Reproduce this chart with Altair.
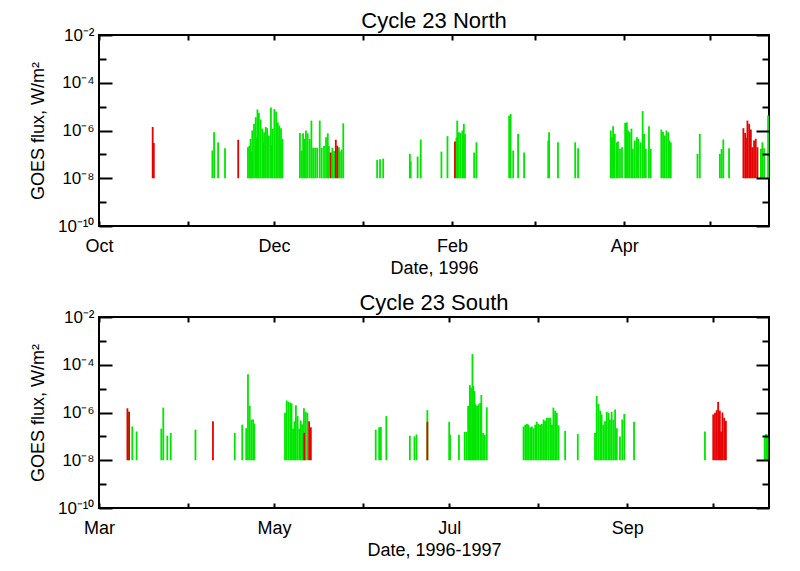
import altair as alt
import pandas as pd

GREEN = "#00e600"
RED = "#e60000"
FONT = "Liberation Sans"

# ---------------- data (days after the panel start date, flux in W/m^2) -------------
NORTH_START = "1995-10-01"
SOUTH_START = "1997-03-01"

north_green_day = [39.5, 40.1, 41.5, 43.9,
    51.9, 52.4, 52.8, 53.0, 53.4, 54.0, 54.6, 55.0, 55.2, 55.7, 56.3, 56.9, 57.2, 57.5,
    58.1, 58.6, 59.2, 59.9, 60.2, 60.5, 61.1, 61.7, 62.0, 62.3, 62.8, 63.1, 63.4, 63.9,
    70.0, 70.6, 71.1, 71.7, 72.1, 72.7, 73.4, 74.0, 74.6, 75.3, 76.0, 76.9, 77.6, 78.4,
    79.1, 79.7, 80.1, 81.3, 81.9, 83.6, 83.9, 84.5, 85.1,
    96.9, 97.9, 99.0, 108.3, 108.6, 111.0, 112.1, 119.3, 121.4,
    124.5, 124.8, 125.4, 126.0, 126.6, 127.1, 127.5, 130.7, 131.5,
    142.9, 143.4, 144.3, 146.0, 148.1, 156.5, 156.8, 159.9, 165.9, 166.9,
    178.3, 178.7, 179.1, 179.7, 180.4, 180.8, 181.5, 182.2, 183.3, 183.9, 184.3, 184.9,
    185.5, 186.0, 186.7, 187.4, 187.9, 188.7, 189.4, 189.9, 190.5, 191.6, 192.2,
    195.9, 196.5, 197.1, 197.7, 198.3, 198.7, 199.2,
    208.5, 209.3, 216.3, 216.9, 217.5, 219.5, 230.6, 231.1, 231.7, 233.1]
north_green_flux = [1.45e-7, 8.5e-7, 3.2e-7, 1.8e-7,
    2.0e-7, 2.3e-7, 4.5e-7, 1.3e-7, 1.0e-6, 1.9e-6, 3.6e-6, 5.0e-7, 7.6e-6, 5.5e-6, 2.9e-6, 1.2e-6, 3.2e-7, 8.5e-7,
    1.4e-6, 1.25e-6, 6.2e-7, 9.3e-6, 2.5e-7, 1.2e-6, 7.9e-6, 6.2e-6, 3.2e-7, 2.2e-6, 1.6e-6, 4.0e-7, 1.25e-6, 4.5e-7,
    7.8e-7, 1.45e-7, 7.6e-7, 4.5e-7, 1.0e-6, 7.6e-7, 4.5e-7, 2.6e-6, 1.9e-7, 1.9e-7, 1.9e-7, 2.6e-6, 1.9e-7, 2.3e-7,
    5.2e-7, 7.6e-7, 2.3e-7, 1.9e-7, 1.4e-7, 2.0e-7, 1.3e-7, 1.6e-7, 2.0e-6,
    5.9e-8, 6.3e-8, 6.6e-8, 1.05e-7, 5.0e-8, 8.1e-8, 4.2e-7, 1.3e-7, 5.8e-7,
    5.0e-7, 2.6e-6, 8.5e-7, 7.9e-7, 1.0e-6, 1.9e-6, 7.1e-7, 1.2e-7, 3.2e-7,
    4.2e-6, 4.9e-6, 1.45e-7, 7.2e-7, 1.2e-7, 3.8e-7, 8.5e-7, 3.2e-7, 3.2e-7, 1.8e-7,
    1.0e-6, 5.2e-7, 1.5e-6, 7.2e-7, 3.2e-7, 3.5e-7, 1.7e-7, 2.0e-7, 2.1e-6, 2.2e-6, 1.0e-6, 8.5e-7,
    1.2e-6, 1.7e-7, 3.8e-7, 5.2e-7, 4.5e-7, 3.2e-7, 6.5e-6, 7.2e-7, 1.7e-7, 1.5e-6, 1.7e-7,
    1.1e-6, 8.9e-7, 6.2e-7, 1.0e-6, 8.5e-7, 3.8e-7, 3.2e-7,
    1.05e-7, 7.2e-7, 1.05e-7, 1.7e-7, 4.2e-7, 1.8e-7, 1.7e-7, 3.2e-7, 1.8e-7, 4.2e-6]
north_red_day = [18.7, 19.1, 48.5, 80.7, 82.5, 83.0, 124.0,
    224.5, 225.1, 225.4, 225.9, 226.5, 227.1, 227.6, 228.2, 228.8, 229.4]
north_red_flux = [1.4e-6, 3.0e-7, 4.1e-7, 1.2e-7, 4.1e-7, 2.3e-7, 3.5e-7,
    1.25e-6, 7.9e-7, 5.0e-7, 2.6e-6, 1.9e-6, 1.1e-6, 2.0e-7, 3.8e-7, 4.5e-7, 2.0e-7]

south_green_day = [10.3, 11.6, 13.1, 21.7, 22.4, 23.8, 25.0, 33.6, 47.3, 49.9, 51.3, 51.9,
    52.5, 53.1, 53.7, 54.1,
    64.8, 65.4, 66.0, 66.6, 67.1, 67.6, 68.1, 68.6, 69.2, 69.8, 70.3, 70.8, 71.4, 72.0, 72.6,
    96.4, 97.6, 98.2, 100.1, 108.3, 109.9, 110.6, 114.4, 122.0, 122.3, 125.4,
    127.4, 128.0, 128.6, 129.2, 129.6, 130.1, 130.4, 130.8, 131.2, 131.7, 132.2, 132.8,
    133.2, 133.8, 134.4, 135.1,
    147.9, 148.5, 149.1, 149.6, 150.2, 150.8, 151.4, 152.0, 152.5, 153.1, 153.7, 154.3,
    154.9, 155.4, 156.0, 156.6, 157.2, 157.8, 158.3, 158.9, 159.5, 160.1,
    162.4, 166.8,
    172.8, 173.4, 174.0, 174.6, 175.1, 175.7, 176.3, 176.9, 177.5, 178.0, 178.6, 179.2,
    179.8, 180.4, 181.5, 182.3, 183.0,
    186.4, 211.1, 231.9, 232.4, 232.9]
south_green_flux = [1.1e-6, 2.6e-7, 1.6e-7, 2.1e-7, 1.6e-6, 1.07e-7, 1.4e-7, 1.9e-7, 1.4e-7, 3.1e-7, 2.2e-7, 4.0e-5,
    1.9e-6, 5.1e-7, 5.1e-7, 3.4e-7,
    9.8e-7, 3.2e-6, 2.8e-6, 2.6e-6, 2.4e-6, 2.1e-7, 4.3e-7, 2.0e-6, 7.1e-7, 2.1e-7, 4.6e-7, 3.2e-7, 1.5e-6, 1.07e-6, 9.8e-7,
    1.9e-7, 2.4e-7, 2.5e-7, 7.1e-7, 1.07e-7, 1.0e-7, 1.2e-7, 1.26e-6, 4.1e-7, 1.17e-7, 1.17e-7,
    1.55e-7, 1.55e-7, 1.9e-6, 1.4e-5, 1.1e-5, 2.8e-4, 1.3e-5, 7.9e-6, 2.2e-6, 1.9e-6, 2.2e-6, 2.5e-6,
    5.4e-6, 1.4e-7, 1.17e-7, 1.66e-6,
    2.6e-7, 3.1e-7, 3.3e-7, 3.1e-7, 2.4e-7, 2.6e-7, 2.2e-7, 3.1e-7, 4.1e-7, 3.3e-7, 3.1e-7, 3.3e-7,
    5.1e-7, 4.4e-7, 6.0e-7, 6.0e-7, 6.0e-7, 3.1e-7, 1.6e-6, 1.2e-6, 9.8e-7, 2.9e-7,
    1.7e-7, 1.26e-7,
    1.4e-7, 4.9e-6, 2.3e-6, 1.2e-6, 8.3e-7, 3.1e-7, 4.3e-7, 1.07e-6, 9.8e-7, 5.1e-7, 1.07e-6, 5.1e-7,
    1.35e-6, 2.2e-7, 1.0e-7, 5.1e-7, 8.7e-7,
    4.1e-7, 1.6e-7, 9.0e-8, 1.26e-7, 1.0e-7]
south_red_day = [9.9, 10.5, 39.7, 71.5, 73.2, 73.8, 114.4,
    214.0, 214.6, 215.2, 215.7, 216.3, 216.7, 217.2, 217.8, 218.4]
south_red_flux = [1.5e-6, 1.07e-6, 4.3e-7, 1.4e-7, 4.3e-7, 2.4e-7, 4.1e-7,
    8.3e-7, 9.8e-7, 1.25e-6, 2.8e-6, 1.2e-6, 1.6e-7, 1.0e-6, 6.0e-7, 4.5e-7]

Y_MAJOR = [1e-10, 1e-8, 1e-6, 1e-4, 1e-2]
Y_MINOR = [1e-9, 1e-7, 1e-5, 1e-3]
BASELINE = 1e-8

north_label_months = [(1995, 10), (1995, 12), (1996, 2), (1996, 4)]
north_tick_months = [(1995, 10), (1995, 11), (1995, 12), (1996, 1), (1996, 2), (1996, 3), (1996, 4), (1996, 5)]
south_label_months = [(1997, 3), (1997, 5), (1997, 7), (1997, 9)]
south_tick_months = [(1997, m) for m in range(3, 11)]


def build_df(start, gd, gf, rd, rf):
    t0 = pd.Timestamp(start, tz="UTC")
    rows = [("green", d, f) for d, f in zip(gd, gf)] + [("red", d, f) for d, f in zip(rd, rf)]
    df = pd.DataFrame(rows, columns=["kind", "day", "flux"])
    df["date"] = (t0 + pd.to_timedelta(df["day"], unit="D")).dt.strftime("%Y-%m-%dT%H:%M:%SZ")
    return df[["kind", "date", "flux"]]


def dt(ym):
    return alt.DateTime(year=ym[0], month=ym[1], date=1, utc=True)


EXP = "round(log(datum.value)/LN10)"
YLABEL = ("'10⁻' + (" + EXP + " == -2 ? '²' : " + EXP + " == -4 ? '⁴' : " + EXP +
          " == -6 ? '⁶' : " + EXP + " == -8 ? '⁸' : '¹⁰')")


def panel(df, title, xtitle, x0, x1, label_months, tick_months):
    xs = alt.Scale(type="utc", domain=[x0, x1])
    ys = alt.Scale(type="log", domain=[1e-10, 1e-2])
    base = alt.Chart(df)
    bars = base.mark_rule(strokeWidth=1.8).encode(
        x=alt.X("date:T", scale=xs,
                axis=alt.Axis(orient="bottom", values=[dt(m) for m in label_months],
                              labelExpr="utcFormat(datum.value, '%b')", labelFlush=False,
                              ticks=False, tickSize=0, domain=False, labelPadding=11,
                              labelFontSize=18, title=xtitle, titleFontSize=18, titlePadding=4)),
        y=alt.Y("flux:Q", scale=ys,
                axis=alt.Axis(orient="left", values=Y_MAJOR, labelExpr=YLABEL, ticks=False, tickSize=0,
                              domain=False, labelPadding=5, labelFontSize=17,
                              title="GOES flux, W/m²", titleFontSize=18, titlePadding=10)),
        y2=alt.datum(BASELINE),
        color=alt.Color("kind:N", scale=alt.Scale(domain=["green", "red"], range=[GREEN, RED]), legend=None),
    )

    def ticks_layer(xaxis, yaxis):
        return base.mark_point(opacity=0).encode(
            x=alt.X("date:T", scale=xs, axis=xaxis),
            y=alt.Y("flux:Q", scale=ys, axis=yaxis),
        )

    month_vals = [dt(m) for m in tick_months]
    l2 = ticks_layer(
        alt.Axis(orient="bottom", values=month_vals, offset=-5, tickSize=5, labels=False, domain=False,
                 title=None, zindex=1),
        alt.Axis(orient="left", values=Y_MAJOR, offset=-13, tickSize=13, labels=False, domain=False,
                 title=None, zindex=1))
    l3 = ticks_layer(
        alt.Axis(orient="top", values=month_vals, offset=-5, tickSize=5, labels=False, domain=False,
                 title=None, zindex=1),
        alt.Axis(orient="left", values=Y_MINOR, offset=-7, tickSize=7, labels=False, domain=False,
                 title=None, zindex=1))
    l4 = ticks_layer(
        None,
        alt.Axis(orient="right", values=Y_MAJOR, offset=-13, tickSize=13, labels=False, domain=False,
                 title=None, zindex=1))
    l5 = ticks_layer(
        None,
        alt.Axis(orient="right", values=Y_MINOR, offset=-7, tickSize=7, labels=False, domain=False,
                 title=None, zindex=1))
    return alt.layer(bars, l2, l3, l4, l5).resolve_axis(x="independent", y="independent").properties(
        width=670, height=191,
        title=alt.TitleParams(title, fontSize=22, offset=-7, anchor="middle", frame="group"),
    )


north_df = build_df(NORTH_START, north_green_day, north_green_flux, north_red_day, north_red_flux)
south_df = build_df(SOUTH_START, south_green_day, south_green_flux, south_red_day, south_red_flux)

top = panel(north_df, "Cycle 23 North", "Date, 1996",
            alt.DateTime(year=1995, month=10, date=1, utc=True),
            alt.DateTime(year=1996, month=5, date=21, hours=10, utc=True),
            north_label_months, north_tick_months)
bottom = panel(south_df, "Cycle 23 South", "Date, 1996-1997",
               alt.DateTime(year=1997, month=3, date=1, utc=True),
               alt.DateTime(year=1997, month=10, date=20, hours=10, utc=True),
               south_label_months, south_tick_months)

chart = alt.vconcat(top, bottom, spacing=13).properties(
    padding={"left": 20, "top": 1, "right": 5, "bottom": 5}
).configure_view(stroke="black", strokeWidth=2).configure_axis(
    grid=False, labelFont=FONT, titleFont=FONT, labelColor="black", titleColor="black",
    tickColor="black", tickWidth=2, titleFontWeight="normal",
).configure_title(font=FONT, fontWeight="normal", color="black")

chart.save("out.html", embed_options={"renderer": "svg", "actions": False})
